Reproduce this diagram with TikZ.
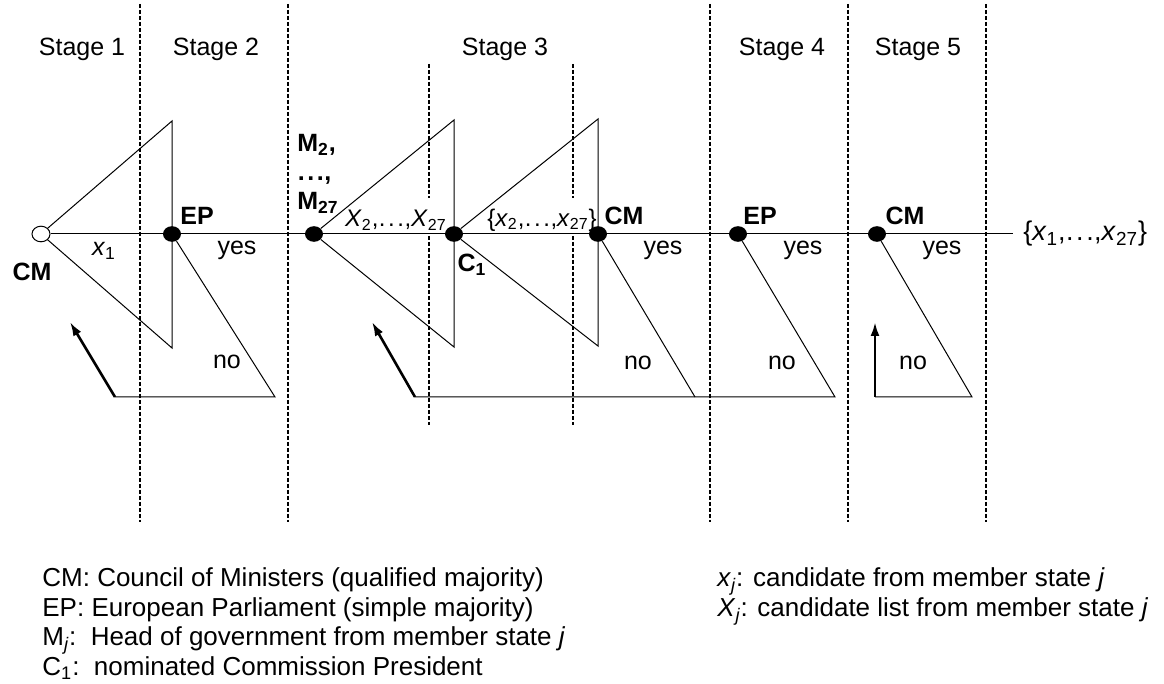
\documentclass[tikz,border=0pt]{standalone}
\usepackage{fontspec}
\setmainfont{Liberation Sans}
\usetikzlibrary{arrows.meta,shapes.geometric}
\newcommand{\lo}[1]{\textsubscript{#1}}
\newcommand{\vx}[1]{\textit{x}\lo{#1}}
\newcommand{\vX}[1]{\textit{X}\lo{#1}}
\newcommand{\dd}{\kern0.2pt.\kern1.3pt.\kern1.3pt.\kern0.2pt}
\tikzset{
  lbl/.style={font=\fontsize{12.5}{14}\selectfont, inner sep=1pt},
  set/.style={font=\fontsize{12}{14}\selectfont, inner sep=0pt},
  who/.style={font=\fontsize{12.5}{14.5}\selectfont\bfseries, inner sep=1pt},
  key/.style={font=\fontsize{13}{15}\selectfont, inner sep=0pt, anchor=base west},
  dot/.style={ellipse, fill=black, minimum width=9pt, minimum height=7.8pt, inner sep=0pt},
  opendot/.style={ellipse, draw, fill=white, line width=0.5pt, minimum width=9pt, minimum height=7.8pt, inner sep=0pt},
  stageline/.style={dash pattern=on 2pt off 1pt, line width=0.9pt},
  branch/.style={line width=0.5pt},
  back/.style={line width=1.3pt, -{Latex[length=7pt,width=4.5pt]}}
}
\begin{document}
\begin{tikzpicture}[x=0.5pt,y=-0.5pt]
\useasboundingbox (0,0) rectangle (1164,684);

\foreach \sx in {140,288,710,848,986}
  \draw[stageline] (\sx,4) -- (\sx,522);
\foreach \sx in {429,573} {
  \draw[stageline] (\sx,64) -- (\sx,198);
  \draw[stageline] (\sx,236) -- (\sx,425);
}

\node[lbl] (s1) at (82,49) {Stage 1};
\node[lbl] (s2) at (216,49) {Stage 2};
\node[lbl] (s3) at (505,49) {Stage 3};
\node[lbl] (s4) at (782,49) {Stage 4};
\node[lbl] (s5) at (918,49) {Stage 5};

\node[opendot] (cm0) at (41,234) {};
\node[dot] (ep1) at (172,234) {};
\node[dot] (m) at (314,234) {};
\node[dot] (c1) at (454,234) {};
\node[dot] (cm1) at (598,234) {};
\node[dot] (ep2) at (738,234) {};
\node[dot] (cm2) at (877,234) {};
\coordinate (out) at (1013,234);

\coordinate (a1) at (172,121);
\coordinate (b1) at (172,348);
\coordinate (a2) at (454,120);
\coordinate (b2) at (454,347);
\coordinate (a3) at (598,119);
\coordinate (b3) at (598,346);

\draw[branch] (cm0) -- (ep1) -- (m) -- (c1) -- (cm1) -- (ep2) -- (cm2) -- (out);
\draw[branch] (cm0) -- (a1) -- (b1) -- (cm0);
\draw[branch] (m) -- (a2) -- (b2) -- (m);
\draw[branch] (c1) -- (a3) -- (b3) -- (c1);

\coordinate (n1) at (275,397);
\coordinate (r1) at (115,397);
\coordinate (h1) at (70,322);
\draw[branch] (ep1) -- (n1) -- (r1);
\draw[back] (r1) -- (h1);

\coordinate (n2) at (695,397);
\coordinate (n3) at (835,397);
\coordinate (r2) at (415,397);
\coordinate (h2) at (372,322);
\draw[branch] (cm1) -- (n2);
\draw[branch] (ep2) -- (n3) -- (r2);
\draw[back] (r2) -- (h2);

\coordinate (n4) at (972,397);
\coordinate (r3) at (875,397);
\coordinate (h3) at (875,322);
\draw[branch] (cm2) -- (n4) -- (r3);
\draw[back] (r3) -- (h3);

\node[who] (cm0l) at (32,272) {CM};
\node[lbl] (x1l) at (104,251) {\vx{1}};
\node[who] (ep1l) at (197,216) {EP};
\node[lbl] (y1) at (237,250) {yes};
\node[lbl] (no1) at (227,362) {no};

\node[who, align=left, anchor=north west, inner sep=0pt] (ml) at (297,134)
  {M\lo{2},\\\dd,\\M\lo{27}};
\node[set] (xl) at (396,220) {\vX{2},\dd,\vX{27}};
\node[who] (c1l) at (472,265) {C\lo{1}};
\node[set] (xs) at (542,220) {\{\vx{2},\dd,\vx{27}\}};
\node[who] (cm1l) at (624,216) {CM};
\node[lbl] (y2) at (663,250) {yes};
\node[lbl] (no2) at (638,363) {no};

\node[who] (ep2l) at (760,216) {EP};
\node[lbl] (y3) at (803,250) {yes};
\node[lbl] (no3) at (782,363) {no};

\node[who] (cm2l) at (905,216) {CM};
\node[lbl] (y4) at (942,250) {yes};
\node[lbl] (no4) at (913,363) {no};
\node[lbl, anchor=west, font=\fontsize{13.5}{15}\selectfont] (res) at (1021,234) {\{\vx{1},\dd,\vx{27}\}};

\node[key] (k1) at (42,587) {CM: Council of Ministers (qualified majority)};
\node[key] (k2) at (42,616.5) {EP: European Parliament (simple majority)};
\node[key] (k3) at (42,646) {M\lo{\itshape j}:\ \ Head of government from member state \textit{j}};
\node[key] (k4) at (42,675.5) {C\lo{1}:\ \ nominated Commission President};
\node[key] (k5) at (717,587) {\vx{\itshape j}: candidate from member state \textit{j}};
\node[key] (k6) at (717,616.5) {\vX{\itshape j}: candidate list from member state \textit{j}};

\end{tikzpicture}
\end{document}
